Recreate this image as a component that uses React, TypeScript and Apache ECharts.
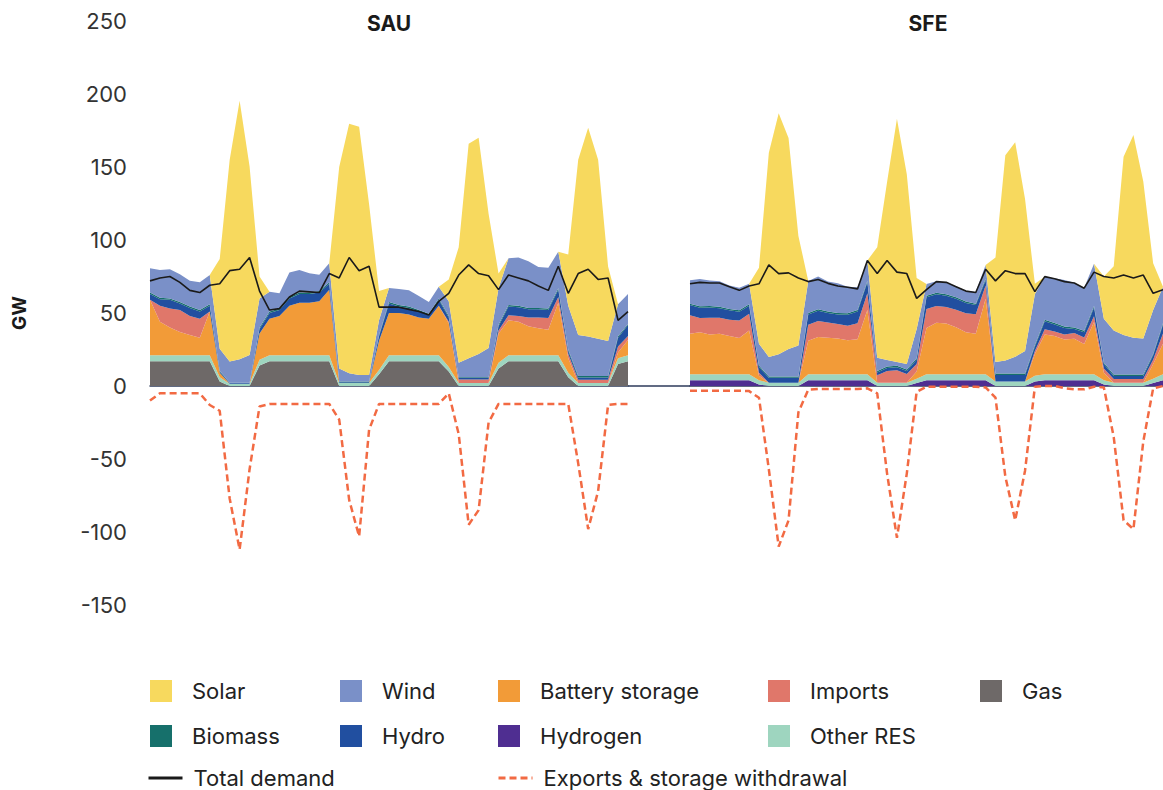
import React, { useEffect, useRef } from 'react';
import * as echarts from 'echarts';

// two-hour time steps, four days per region
const steps = ['0','2','4','6','8','10','12','14','16','18','20','22','24','26','28','30','32','34','36','38','40','42','44','46','48','50','52','54','56','58','60','62','64','66','68','70','72','74','76','78','80','82','84','86','88','90','92','94','96'];

const yTicks = [-150, -100, -50, 0, 50, 100, 150, 200, 250];

// ---- SAU ----
const sauGas = [17,17,17,17,17,17,17, 3, 0,0,0, 14, 17,17,17,17,17,17,17, 0,0,0,0, 8, 17,17,17,17,17,17, 10, 0,0,0,0, 12, 17,17,17,17,17,17, 6, 0,0,0,0, 15, 17];
const sauOther = [4,4,4,4,4,4,4, 3, 1.5,1.5,1.5, 4, 4,4,4,4,4,4,4, 2,2,2,2, 3, 4,4,4,4,4,4, 3, 2,2,2,2, 4, 4,4,4,4,4,4, 3, 2,2,2,2, 4, 4];
const sauBattery = [38,23,19,16,14,12,30, 3, 0,0,0, 18, 25,27,34,36,36,37,45, 0,0,0,0, 20, 29,29,28,26,25,34, 30, 0,0,0,0, 20, 24,23,20,18.5,17.5,36, 10, 0,0,0,0, 4, 10.5];
const sauImports = [0,11,13,15,13,13,0, 0, 0,0,0, 0, 0,0,0,0,0,0,0, 0,0,0,0, 0, 0,0,0,0,0,0, 1, 2.5,2.5,2.5,2.5, 2, 3.5,4,6,7.5,8,4, 3, 2.3,2.3,2.3,2.3, 4, 2.7];
const sauHydro = [4,4.5,6,4.5,5.5,5,4, 1, 0.5,0.5,0.5, 3, 4,4,5,6,6,6,4, 0.5,0.5,0.5,0.5, 3, 6.5,4.5,4.5,4,2.5,4, 3, 1,1,1,1, 3, 6,6,5.5,5.5,5.5,5, 2, 1.6,1.6,1.6,1.6, 6, 7.6];
const sauBiomass = [1,1,1,1,1,1,1, 0.5, 0.3,0.3,0.3, 1, 1,1,1,1,1,1,1, 0.5,0.5,0.5,0.5, 1, 1,1,1,1,1,1, 1, 0.5,0.5,0.5,0.5, 1, 1,1,1,1,1,1, 1, 1,1,1,1, 1, 0.7];
const sauWind = [16.6,19,20,19,17.6,19,20, 15, 14.5,16,19, 20, 13.6,10.5,16.8,15.4,13.2,11.2,13, 9,5.7,4.5,4.5, 10, 9.6,11,11,9.6,8,8, 10, 10,13,16,20, 25, 32,33,32,28,28,25, 30, 28,27,25.5,24, 22, 20.5];
const sauSolar = [0,0,0,0,0,0,0, 61.5, 138,177,129, 15, 0,0,0,0,0,0,0, 138,171,170,117, 20, 0,0,0,0,0,0, 15, 79,147,148,92, 10, 0,0,0,0,0,0, 35, 120,143,122.6,51, 0, 0];
const sauDemand = [72,74,75,71,65.5,64,69, 70, 79,80,88, 65, 52,53,61,65,64.5,64,77, 74,88,79,82, 54, 54,54,52.5,51,48.6,58, 63.5, 76,83,77,75.5, 66, 76,74,72,68.5,65.5,82, 63.5, 77,80,73,74, 45, 51];
const sauExports = [-10,-5,-5,-5,-5,-5,-13, -17, -77,-112,-57, -14, -12.3,-12.3,-12.3,-12.3,-12.3,-12.3,-12.3, -23,-78,-103,-30, -12.3, -12.3,-12.3,-12.3,-12.3,-12.3,-12.3, -5, -33,-95,-85,-25, -12.3, -12.3,-12.3,-12.3,-12.3,-12.3,-12.3, -12.3, -53,-98,-72,-13, -12.3, -12.3];

// ---- SFE ----
const sfeHydrogen = [4,4,4,4,4,4,4, 1, 0,0,0,0, 4,4,4,4,4,4,4, 0,0,0,0, 2, 4,4,4,4,4,4,4, 0,0,0,0, 3, 4,4,4,4,4,4, 1, 0,0,0,0, 2, 4];
const sfeOther = [4,4,4,4,4,4,4, 3, 2.3,2.3,2.3,2.3, 4,4,4,4,4,4,4, 2.3,2.3,2.3,2.3, 3, 4,4,4,4,4,4,4, 3,3,3,3, 4, 4,4,4,4,4,4, 3, 2.3,2.3,2.3,2.3, 3, 4];
const sfeBattery = [27.8,28.8,27.3,27.8,26.3,24.8,30, 3, 0,0,0,0, 23,25.5,25,24.5,23.3,24,44, 0,0,0,0, 5, 31.8,35.3,34.8,32.3,28.8,27.8,51.8, 0,0,0,0, 15, 27.3,26.3,23.8,24.3,20.8,35.8, 5, 0,0,0,0, 10, 21];
const sfeImports = [12.6,9.8,11.5,11,11,12,11.5, 2, 0,0,0,0, 11,11,10.5,10,10,11,11.5, 5,8,8.5,6, 5, 13,11.5,11.3,12,13,13.3,9, 0,0,0,0, 2, 3.5,3,3.5,4,4.5,4, 3, 2.5,2.5,2.5,2.5, 3, 7];
const sfeHydro = [7,7,7,6.5,6.5,6,5.5, 4, 3.4,3.4,3.4,3.4, 7,7,6.5,6.5,7.5,8,7.5, 2,2,2,2, 3, 8,8,7.7,7.5,7,6.3,3.7, 4.5,4.5,4.5,4.5, 3, 5.5,4.8,4.5,2.8,3.5,6, 3, 2,2,2,2, 3, 6];
const sfeBiomass = [1,1,1,1,1,1,1, 1, 0.8,0.8,0.8,0.8, 1,1,1,1,1,1,1, 1,1,1,1, 1, 1,1,1,1,1,1,1, 1,1,1,1, 1, 1,1,1,1,1,1, 1, 1,1,1,1, 1, 1];
const sfeWind = [16,18.7,17.5,17.5,16,15.5,14, 15, 13.3,15.3,18.8,21.3, 22,22.5,20.5,20.3,18.2,15.6,14, 9,4.5,2.7,3.7, 20, 8,8,8,7.5,7.5,8,9.3, 8,9,11.5,15.5, 35, 29.5,30.7,31.8,30.7,29.5,29, 30, 30.2,27.2,25.2,24.8, 30, 25];
const sfeSolar = [0,0,0,0,0,0,0, 52, 140,165,144.5,75, 0,0,0,0,0,0,0, 75.7,122,166.5,130, 35, 0,0,0,0,0,0,0, 71.5,140.5,147,104, 7, 0,0,0,0,0,0, 29, 44,122,139,107.4, 32, 0];
const sfeDemand = [70,71,70.5,70.5,68,65.5,68.5, 70, 83,77,77.5,74, 71.5,73,70.3,68.5,67.6,66.5,86, 77,86,78,77, 60, 66,71.5,71,68,65,64,80, 72,79,77,77, 64.6, 74.9,73.5,71.5,70.5,67,78, 75, 74,76,74,76, 63.5, 66];
const sfeExports = [-3.2,-3.2,-3.2,-3.2,-3.2,-3.2,-3.5, -8, -57,-110,-92,-18, -2.5,-2,-2,-2,-2,-2,-1.6, -5,-60,-104,-60, -4, -0.5,-0.5,-0.5,-0.5,-0.5,-0.5,-1, -8,-62,-92,-58, -0.5, 0,0,-1.5,-2.3,-2.3,-0.5, -1, -35,-92,-98,-38, -1.6, 0];

const regions = ['SAU', 'SFE'];
const legendNames = ['Solar', 'Wind', 'Battery storage', 'Imports', 'Gas', 'Biomass', 'Hydro', 'Hydrogen', 'Other RES', 'Total demand', 'Exports & storage withdrawal'];

const COLORS: Record<string, string> = {
  'Solar': '#F7D95E',
  'Wind': '#7A90C8',
  'Battery storage': '#F29B38',
  'Imports': '#E0776A',
  'Gas': '#6E6968',
  'Biomass': '#16706B',
  'Hydro': '#214FA0',
  'Hydrogen': '#4F2E91',
  'Other RES': '#9ED5BF',
  'Total demand': '#1a1a1a',
  'Exports & storage withdrawal': '#F26A43',
};

const FONT = 'Inter';
const DASH = [7, 4];

function buildOption() {
  const sauStack: [string, number[]][] = [
    ['Gas', sauGas], ['Other RES', sauOther], ['Battery storage', sauBattery], ['Imports', sauImports],
    ['Hydro', sauHydro], ['Biomass', sauBiomass], ['Wind', sauWind], ['Solar', sauSolar],
  ];
  const sfeStack: [string, number[]][] = [
    ['Hydrogen', sfeHydrogen], ['Other RES', sfeOther], ['Battery storage', sfeBattery], ['Imports', sfeImports],
    ['Hydro', sfeHydro], ['Biomass', sfeBiomass], ['Wind', sfeWind], ['Solar', sfeSolar],
  ];
  const series: any[] = [];
  [sauStack, sfeStack].forEach((stack, gi) => {
    stack.forEach(([name, data]) => {
      series.push({
        name, type: 'line', stack: regions[gi], xAxisIndex: gi, yAxisIndex: gi,
        data, symbol: 'none', showSymbol: false, z: 2,
        lineStyle: { width: 0, color: COLORS[name] },
        itemStyle: { color: COLORS[name] },
        areaStyle: { color: COLORS[name], opacity: 1 },
      });
    });
  });
  [[sauDemand, sauExports], [sfeDemand, sfeExports]].forEach(([dem, exp], gi) => {
    series.push({
      name: 'Total demand', type: 'line', xAxisIndex: gi, yAxisIndex: gi, data: dem,
      symbol: 'none', showSymbol: false, z: 5,
      lineStyle: { color: COLORS['Total demand'], width: 1.6 },
      itemStyle: { color: COLORS['Total demand'] },
    });
    series.push({
      name: 'Exports & storage withdrawal', type: 'line', xAxisIndex: gi, yAxisIndex: gi, data: exp,
      symbol: 'none', showSymbol: false, z: 5,
      lineStyle: { color: COLORS['Exports & storage withdrawal'], width: 2.5, type: DASH },
      itemStyle: { color: COLORS['Exports & storage withdrawal'] },
    });
  });

  const legendPos: Record<string, [number, number]> = {
    'Solar': [150, 680], 'Wind': [340, 680], 'Battery storage': [498, 680], 'Imports': [768, 680], 'Gas': [980, 680],
    'Biomass': [150, 725], 'Hydro': [340, 725], 'Hydrogen': [498, 725], 'Other RES': [768, 725],
    'Total demand': [147, 767], 'Exports & storage withdrawal': [497, 767],
  };
  const legend = legendNames.map((name) => {
    const isLine = name === 'Total demand' || name === 'Exports & storage withdrawal';
    const base: any = {
      data: isLine ? [name] : [{ name, icon: 'rect' }],
      left: legendPos[name][0], top: legendPos[name][1],
      padding: 0, itemWidth: isLine ? 34 : 22, itemHeight: 22,
      selectedMode: false,
      textStyle: { fontSize: 22, color: '#222', fontFamily: FONT, padding: [0, 0, 0, isLine ? 6 : 15] },
    };
    if (isLine) {
      base.itemStyle = { opacity: 0, borderWidth: 0 };
      base.lineStyle = name === 'Total demand'
        ? { width: 3, color: COLORS[name] }
        : { width: 3, color: COLORS[name], type: DASH };
    }
    return base;
  });

  const axisCommon = {
    type: 'category', data: steps, boundaryGap: false,
    axisLabel: { show: false }, axisTick: { show: false }, splitLine: { show: false },
    axisLine: { onZero: true, lineStyle: { color: '#2c3a5a', width: 1.5 } },
  };

  return {
    animation: false,
    textStyle: { fontFamily: FONT },
    grid: [
      { left: 150, top: 21, width: 478, height: 584 },
      { left: 690, top: 21, width: 473, height: 584 },
    ],
    xAxis: [{ ...axisCommon, gridIndex: 0 }, { ...axisCommon, gridIndex: 1 }],
    yAxis: [
      {
        type: 'value', gridIndex: 0, min: yTicks[0], max: yTicks[yTicks.length - 1], interval: 50,
        axisLabel: { fontSize: 22, color: '#333', margin: 23, fontFamily: FONT },
        axisLine: { show: false }, axisTick: { show: false }, splitLine: { show: false },
      },
      {
        type: 'value', gridIndex: 1, min: yTicks[0], max: yTicks[yTicks.length - 1], interval: 50, show: false,
        splitLine: { show: false },
      },
    ],
    legend,
    graphic: [
      { type: 'line', shape: { x1: 628, y1: 386, x2: 690, y2: 386 }, style: { stroke: '#2c3a5a', lineWidth: 1.5 } },
      { type: 'text', x: 389, y: 23, style: { text: regions[0], font: `bold 21px ${FONT}`, fill: '#1a1a1a', align: 'center', textAlign: 'center', verticalAlign: 'middle', textVerticalAlign: 'middle' } },
      { type: 'text', x: 928, y: 23, style: { text: regions[1], font: `bold 21px ${FONT}`, fill: '#1a1a1a', align: 'center', textAlign: 'center', verticalAlign: 'middle', textVerticalAlign: 'middle' } },
      { type: 'text', x: 19, y: 313, rotation: Math.PI / 2, style: { text: 'GW', font: `bold 19px ${FONT}`, fill: '#1a1a1a', align: 'center', textAlign: 'center', verticalAlign: 'middle', textVerticalAlign: 'middle' } },
    ],
    series,
  };
}

export default function App() {
  const ref = useRef<HTMLDivElement>(null);
  useEffect(() => {
    if (!ref.current) return;
    const chart = echarts.init(ref.current, null, { renderer: 'svg' });
    chart.setOption(buildOption() as any);
    return () => chart.dispose();
  }, []);
  return (
    <div ref={ref} style={{ position: 'fixed', left: 0, top: 0, width: 1163, height: 790, background: '#fff' }} />
  );
}
